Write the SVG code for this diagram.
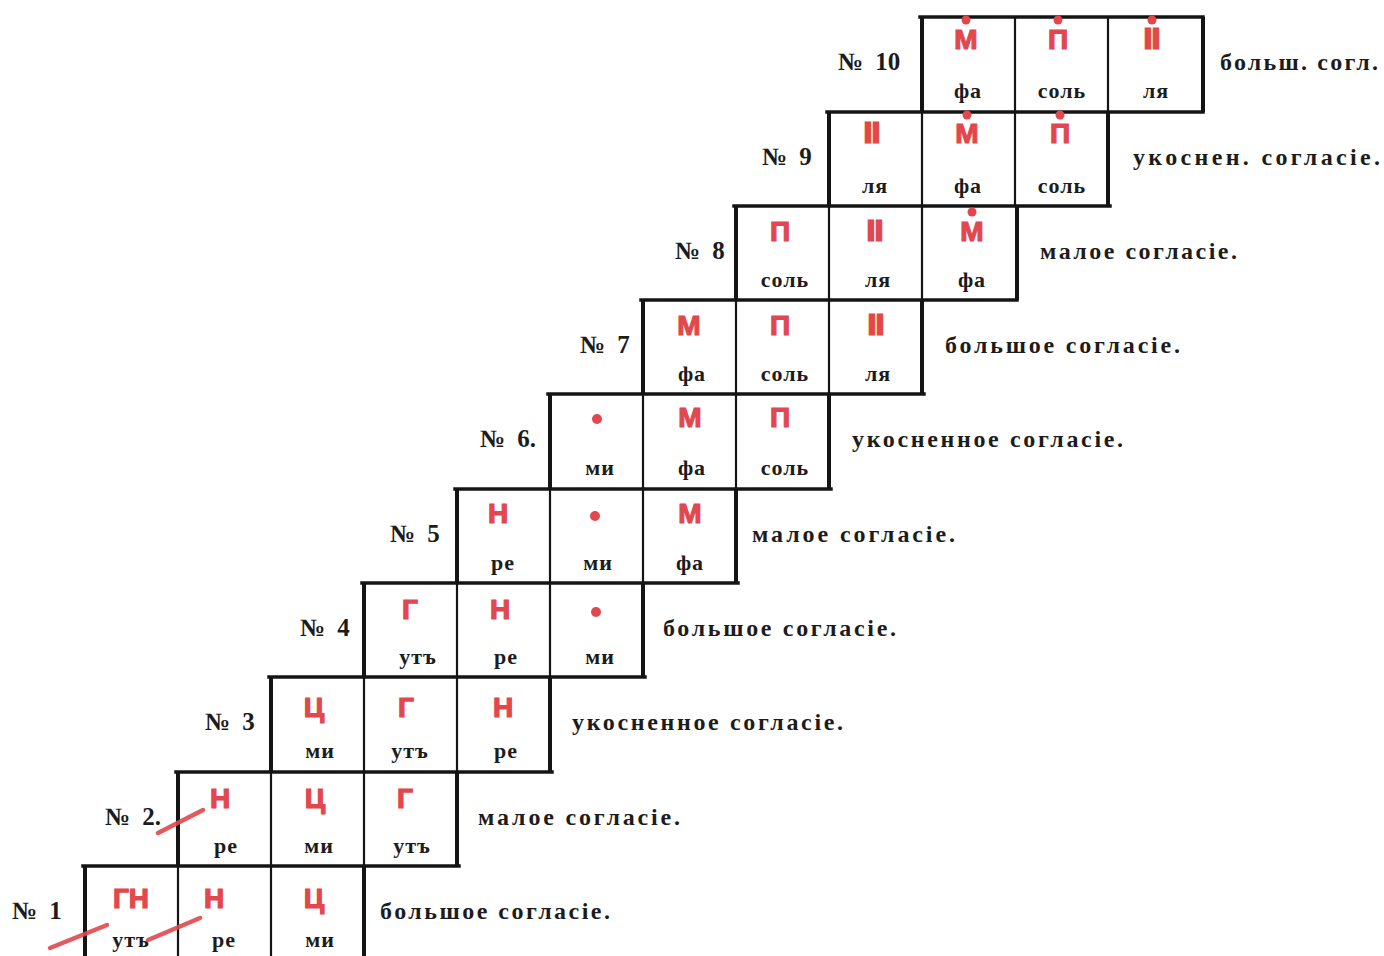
<svg xmlns="http://www.w3.org/2000/svg" width="1384" height="956" viewBox="0 0 1384 956">
<style>
.ln{stroke:#141414;stroke-width:3.5;fill:none;stroke-linecap:square}
.ob{stroke:#141414;stroke-width:4;fill:none}
.ib{stroke:#141414;stroke-width:2.2;fill:none}
.nm{font-family:"Liberation Serif","DejaVu Serif",serif;font-weight:bold;font-size:22px;fill:#1c1c1c;text-anchor:middle;letter-spacing:1px}
.nu{font-family:"Liberation Sans","DejaVu Sans",sans-serif;font-weight:bold;font-size:28px;fill:#e2474d;stroke:#e2474d;stroke-width:1.2;text-anchor:middle}
.no{font-family:"Liberation Serif","DejaVu Serif",serif;font-weight:bold;font-size:25px;fill:#1c1c1c;word-spacing:6px}
.lb{font-family:"Liberation Serif","DejaVu Serif",serif;font-weight:bold;font-size:24px;fill:#1c1c1c}
.dot{fill:#e2474d}
.strike{stroke:#e0474c;stroke-width:4.5;stroke-linecap:round;fill:none;opacity:0.9}
</style>
<rect width="1384" height="956" fill="#ffffff"/>

<g id="connectors">
<line class="ln" x1="83" y1="866" x2="459" y2="866"/>
<line class="ln" x1="176" y1="772" x2="552" y2="772"/>
<line class="ln" x1="269" y1="677" x2="645" y2="677"/>
<line class="ln" x1="362" y1="583" x2="738" y2="583"/>
<line class="ln" x1="455" y1="489" x2="831" y2="489"/>
<line class="ln" x1="548" y1="394" x2="924" y2="394"/>
<line class="ln" x1="641" y1="300" x2="1017" y2="300"/>
<line class="ln" x1="734" y1="206" x2="1110" y2="206"/>
<line class="ln" x1="827" y1="112" x2="1203" y2="112"/>
<line class="ln" x1="920" y1="17" x2="1203" y2="17"/>
</g>

<g id="row1">
<line class="ob" x1="85" y1="866" x2="85" y2="956"/><line class="ib" x1="178" y1="866" x2="178" y2="956"/><line class="ib" x1="271" y1="866" x2="271" y2="956"/><line class="ob" x1="364" y1="866" x2="364" y2="956"/>
<text class="no" x="12" y="919">№ 1</text>
<text class="nu" x="131" y="908">ГН</text><text class="nu" x="214" y="908">Н</text><text class="nu" x="314" y="908">Ц</text>
<text class="nm" x="131" y="947">утъ</text><text class="nm" x="224" y="947">ре</text><text class="nm" x="320" y="947">ми</text>
<text class="lb" x="380" y="919" textLength="230" lengthAdjust="spacing">большое согласіе.</text>
<path class="strike" d="M50 948 L107 925"/><path class="strike" d="M148 940 L200 918"/>
</g>

<g id="row2">
<line class="ob" x1="178" y1="772" x2="178" y2="866"/><line class="ib" x1="271" y1="772" x2="271" y2="866"/><line class="ib" x1="364" y1="772" x2="364" y2="866"/><line class="ob" x1="457" y1="772" x2="457" y2="866"/>
<text class="no" x="105" y="825">№ 2.</text>
<text class="nu" x="220" y="808">Н</text><text class="nu" x="315" y="808">Ц</text><text class="nu" x="405" y="808">Г</text>
<text class="nm" x="226" y="853">ре</text><text class="nm" x="319" y="853">ми</text><text class="nm" x="412" y="853">утъ</text>
<text class="lb" x="478" y="825" textLength="202" lengthAdjust="spacing">малое согласіе.</text>
<path class="strike" d="M158 833 L203 810"/>
</g>

<g id="row3">
<line class="ob" x1="271" y1="677" x2="271" y2="772"/><line class="ib" x1="364" y1="677" x2="364" y2="772"/><line class="ib" x1="457" y1="677" x2="457" y2="772"/><line class="ob" x1="550" y1="677" x2="550" y2="772"/>
<text class="no" x="205" y="730">№ 3</text>
<text class="nu" x="314" y="717">Ц</text><text class="nu" x="406" y="717">Г</text><text class="nu" x="503" y="717">Н</text>
<text class="nm" x="320" y="758">ми</text><text class="nm" x="410" y="758">утъ</text><text class="nm" x="506" y="758">ре</text>
<text class="lb" x="572" y="730" textLength="271" lengthAdjust="spacing">укосненное согласіе.</text>
</g>

<g id="row4">
<line class="ob" x1="364" y1="583" x2="364" y2="677"/><line class="ib" x1="457" y1="583" x2="457" y2="677"/><line class="ib" x1="550" y1="583" x2="550" y2="677"/><line class="ob" x1="643" y1="583" x2="643" y2="677"/>
<text class="no" x="300" y="636">№ 4</text>
<text class="nu" x="410" y="619">Г</text><text class="nu" x="500" y="619">Н</text><circle class="dot" cx="596" cy="612" r="5"/>
<text class="nm" x="418" y="664">утъ</text><text class="nm" x="506" y="664">ре</text><text class="nm" x="600" y="664">ми</text>
<text class="lb" x="663" y="636" textLength="233" lengthAdjust="spacing">большое согласіе.</text>
</g>

<g id="row5">
<line class="ob" x1="457" y1="489" x2="457" y2="583"/><line class="ib" x1="550" y1="489" x2="550" y2="583"/><line class="ib" x1="643" y1="489" x2="643" y2="583"/><line class="ob" x1="736" y1="489" x2="736" y2="583"/>
<text class="no" x="390" y="542">№ 5</text>
<text class="nu" x="498" y="523">Н</text><circle class="dot" cx="595" cy="516" r="5"/><text class="nu" x="690" y="523">М</text>
<text class="nm" x="503" y="570">ре</text><text class="nm" x="598" y="570">ми</text><text class="nm" x="690" y="570">фа</text>
<text class="lb" x="752" y="542" textLength="203" lengthAdjust="spacing">малое согласіе.</text>
</g>

<g id="row6">
<line class="ob" x1="550" y1="394" x2="550" y2="489"/><line class="ib" x1="643" y1="394" x2="643" y2="489"/><line class="ib" x1="736" y1="394" x2="736" y2="489"/><line class="ob" x1="829" y1="394" x2="829" y2="489"/>
<text class="no" x="480" y="447">№ 6.</text>
<circle class="dot" cx="597" cy="419" r="5"/><text class="nu" x="690" y="427">М</text><text class="nu" x="780" y="427">П</text>
<text class="nm" x="600" y="475">ми</text><text class="nm" x="692" y="475">фа</text><text class="nm" x="785" y="475">соль</text>
<text class="lb" x="852" y="447" textLength="271" lengthAdjust="spacing">укосненное согласіе.</text>
</g>

<g id="row7">
<line class="ob" x1="643" y1="300" x2="643" y2="394"/><line class="ib" x1="736" y1="300" x2="736" y2="394"/><line class="ib" x1="829" y1="300" x2="829" y2="394"/><line class="ob" x1="922" y1="300" x2="922" y2="394"/>
<text class="no" x="580" y="353">№ 7</text>
<text class="nu" x="689" y="335">М</text><text class="nu" x="780" y="335">П</text><text class="nu" x="876" y="335">Ⅱ</text>
<text class="nm" x="692" y="381">фа</text><text class="nm" x="785" y="381">соль</text><text class="nm" x="878" y="381">ля</text>
<text class="lb" x="945" y="353" textLength="235" lengthAdjust="spacing">большое согласіе.</text>
</g>

<g id="row8">
<line class="ob" x1="736" y1="206" x2="736" y2="300"/><line class="ib" x1="829" y1="206" x2="829" y2="300"/><line class="ib" x1="922" y1="206" x2="922" y2="300"/><line class="ob" x1="1017" y1="206" x2="1017" y2="300"/>
<text class="no" x="675" y="259">№ 8</text>
<text class="nu" x="780" y="241">П</text><text class="nu" x="875" y="241">Ⅱ</text><text class="nu" x="972" y="241">М</text>
<circle class="dot" cx="972" cy="212" r="4.5"/>
<text class="nm" x="785" y="287">соль</text><text class="nm" x="878" y="287">ля</text><text class="nm" x="972" y="287">фа</text>
<text class="lb" x="1040" y="259" textLength="197" lengthAdjust="spacing">малое согласіе.</text>
</g>

<g id="row9">
<line class="ob" x1="829" y1="112" x2="829" y2="206"/><line class="ib" x1="922" y1="112" x2="922" y2="206"/><line class="ib" x1="1015" y1="112" x2="1015" y2="206"/><line class="ob" x1="1108" y1="112" x2="1108" y2="206"/>
<text class="no" x="762" y="165">№ 9</text>
<text class="nu" x="872" y="143">Ⅱ</text><text class="nu" x="967" y="143">М</text><text class="nu" x="1060" y="143">П</text>
<circle class="dot" cx="967" cy="115" r="4.5"/><circle class="dot" cx="1060" cy="115" r="4.5"/>
<text class="nm" x="875" y="193">ля</text><text class="nm" x="968" y="193">фа</text><text class="nm" x="1062" y="193">соль</text>
<text class="lb" x="1133" y="165" textLength="247" lengthAdjust="spacing">укоснен. согласіе.</text>
</g>

<g id="row10">
<line class="ob" x1="922" y1="17" x2="922" y2="112"/><line class="ib" x1="1015" y1="17" x2="1015" y2="112"/><line class="ib" x1="1108" y1="17" x2="1108" y2="112"/><line class="ob" x1="1203" y1="17" x2="1203" y2="112"/>
<text class="no" x="838" y="70">№ 10</text>
<text class="nu" x="966" y="49">М</text><text class="nu" x="1058" y="49">П</text><text class="nu" x="1152" y="49">Ⅱ</text>
<circle class="dot" cx="966" cy="20" r="4.5"/><circle class="dot" cx="1058" cy="20" r="4.5"/><circle class="dot" cx="1152" cy="20" r="4.5"/>
<text class="nm" x="968" y="98">фа</text><text class="nm" x="1062" y="98">соль</text><text class="nm" x="1156" y="98">ля</text>
<text class="lb" x="1220" y="70" textLength="158" lengthAdjust="spacing">больш. согл.</text>
</g>
</svg>
